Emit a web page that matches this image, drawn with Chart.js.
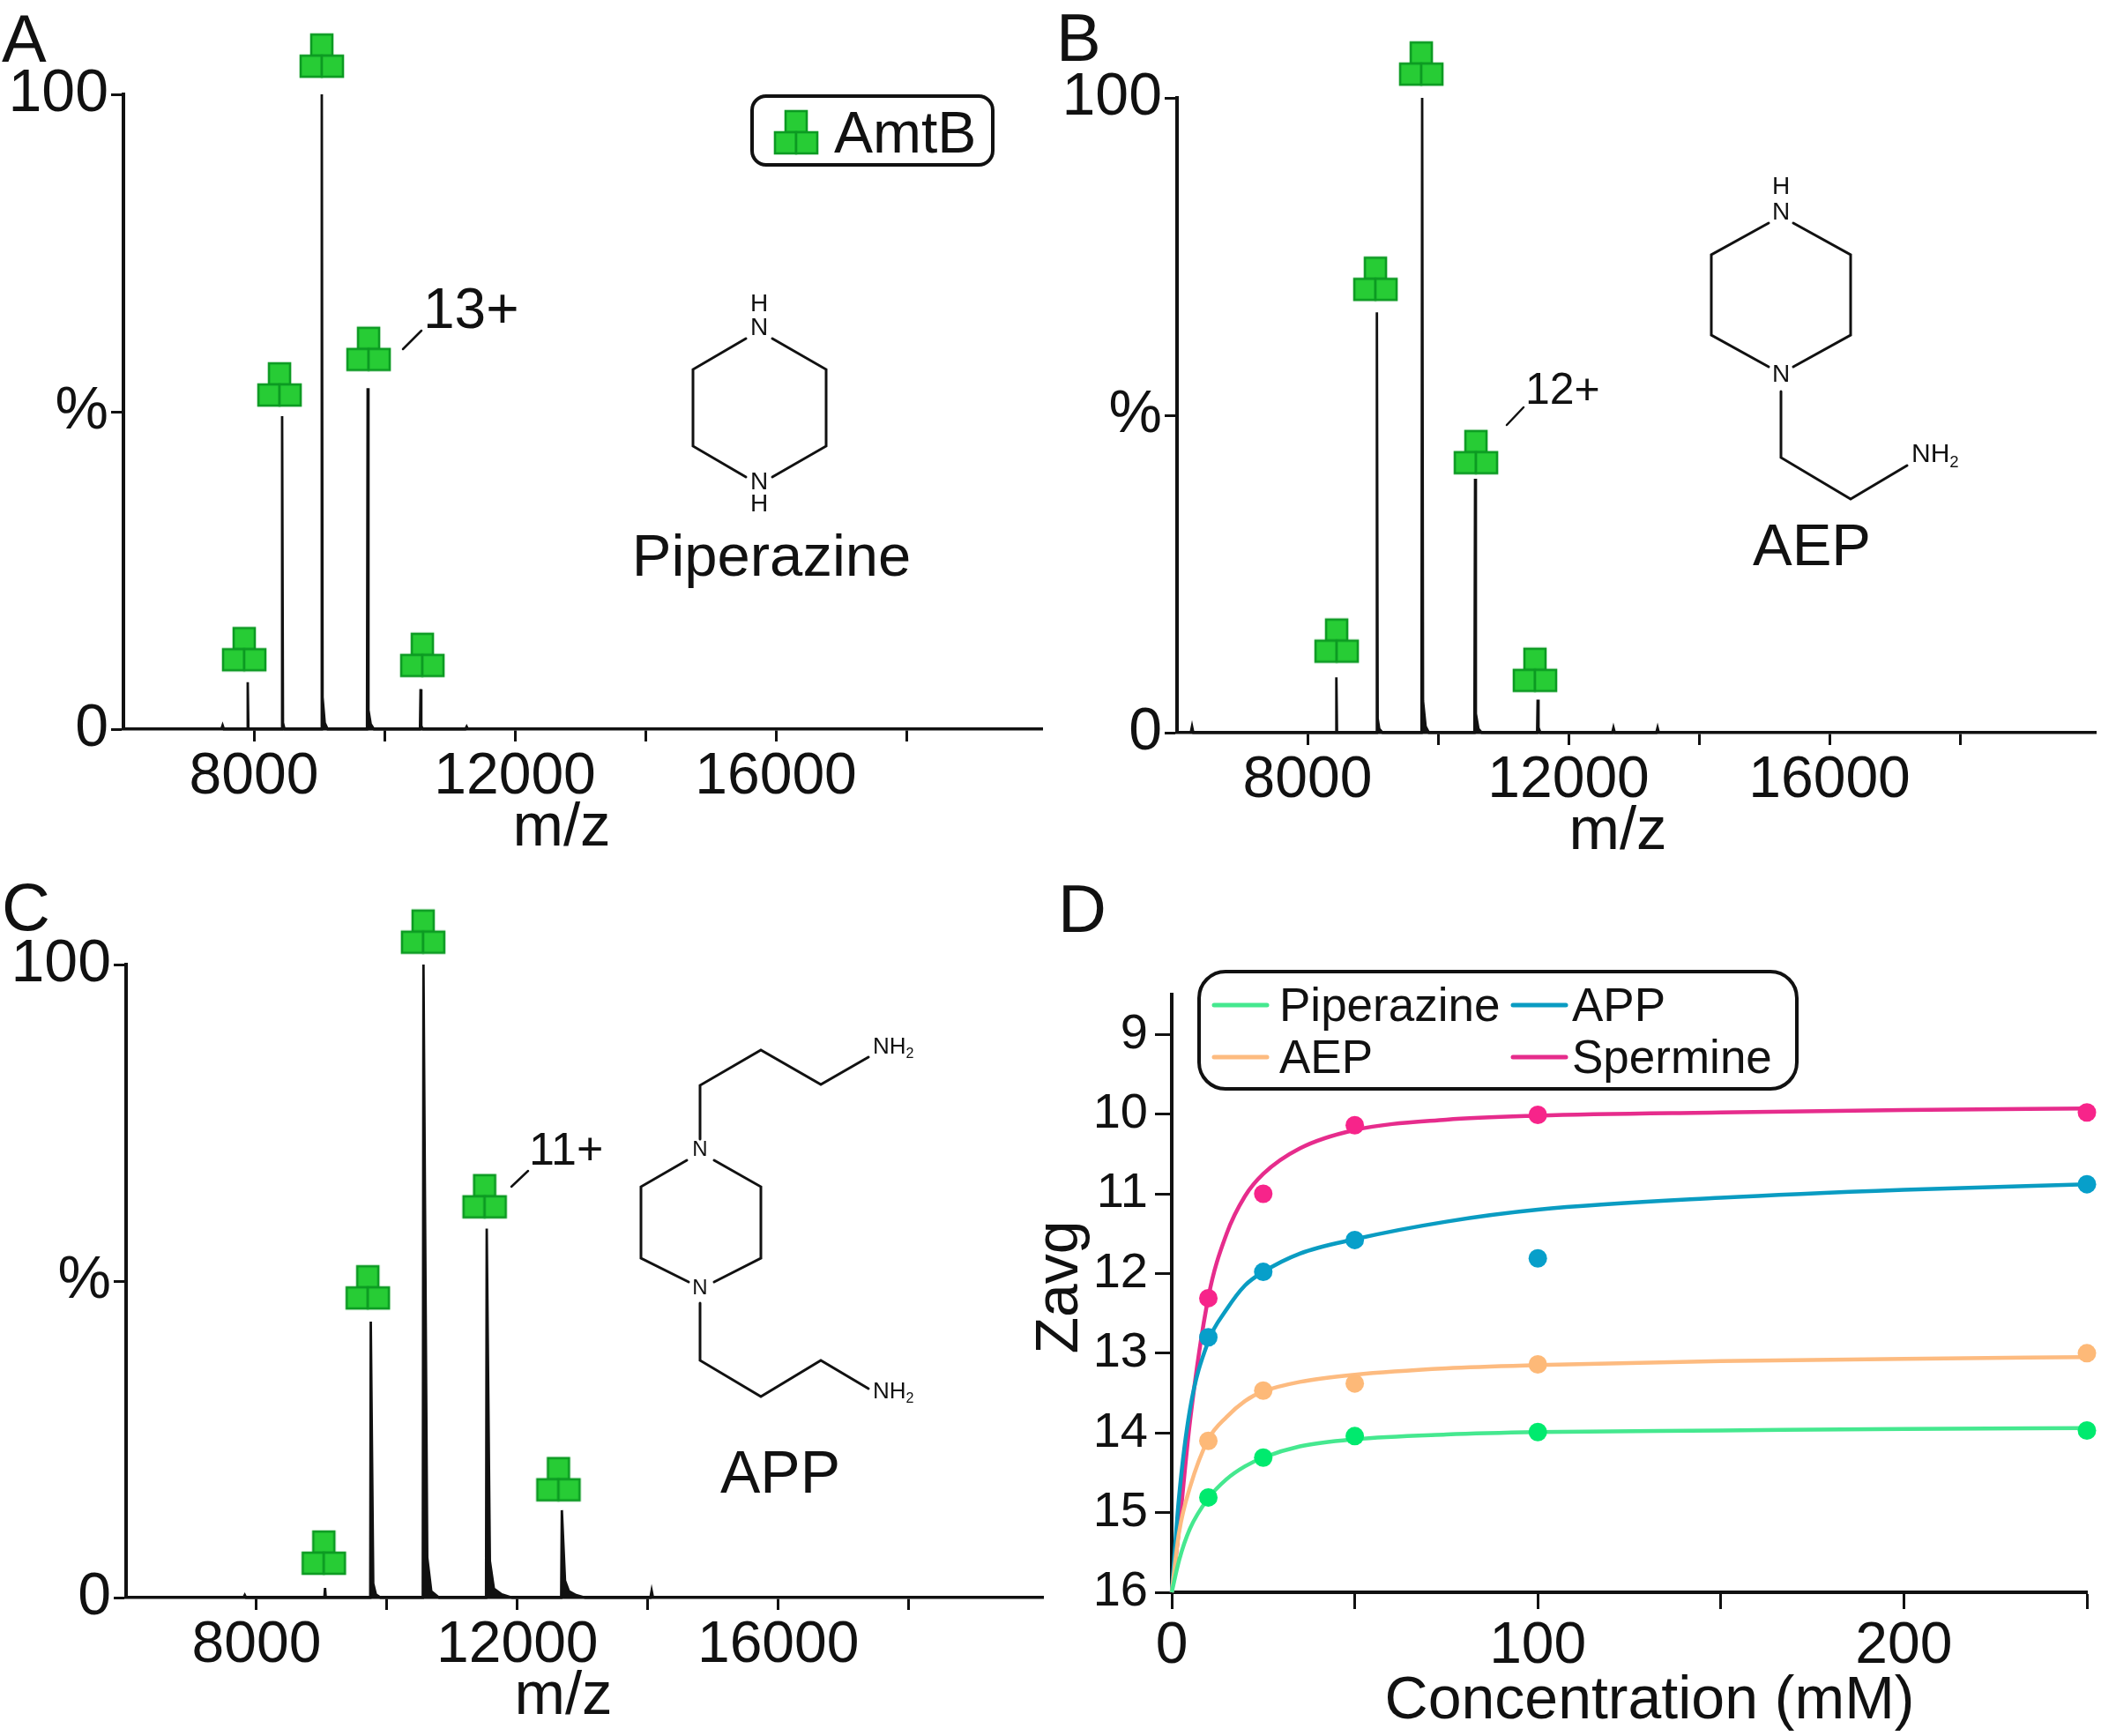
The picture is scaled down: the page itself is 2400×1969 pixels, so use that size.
<!DOCTYPE html>
<html>
<head>
<meta charset="utf-8">
<title>AmtB charge reduction</title>
<script src="https://cdn.jsdelivr.net/npm/chart.js@4/dist/chart.umd.min.js"></script>
<style>
    html, body { margin: 0; padding: 0; background: #fff; }
    canvas { position: absolute; }
</style>
</head>
<body>
<canvas id="panelA"></canvas>
<canvas id="panelB"></canvas>
<canvas id="panelC"></canvas>
<canvas id="panelD"></canvas>
<script>
// spectra: mz / percent
const mzA = [7500, 7520, 7540, 7897, 7905, 7915, 8424, 8432, 8445, 8470, 9030, 9040, 9052, 9085, 9130, 9733, 9743, 9755, 9790, 9840, 10545, 10554, 10565, 10590, 11240, 11260, 11280];
const pctA = [0, 0.6, 0, 0, 7.4, 0, 0, 49.3, 1, 0, 0, 100, 5, 1, 0, 0, 53.7, 3, 0.8, 0, 0, 6.3, 0.5, 0, 0, 0.4, 0];
const glyphMzA = [7851, 8392, 9040, 9757, 10581];
const glyphPctA = [12.6, 54.3, 106.1, 59.9, 11.7];

const mzB = [6210, 6230, 6250, 8434, 8442, 8452, 9055, 9063, 9075, 9100, 9150, 9747, 9757, 9770, 9810, 9860, 10558, 10568, 10580, 10620, 10670, 11519, 11527, 11540, 11570, 12670, 12689, 12710, 13345, 13365, 13385];
const pctB = [0, 1, 0, 0, 8.7, 0, 0, 66.2, 2.2, 0.6, 0, 0, 100, 5, 1, 0, 0, 40, 3, 0.6, 0, 0, 5.2, 0.8, 0, 0, 0.8, 0, 0, 0.8, 0];
const glyphMzB = [8446, 9041, 9743, 10581, 11486];
const glyphPctB = [14.5, 71.5, 105.4, 44.2, 9.9];

const mzC = [7800, 7820, 7840, 9040, 9051, 9062, 9744, 9752, 9790, 9830, 9900, 10550, 10560, 10618, 10680, 10800, 11520, 11530, 11578, 11640, 11760, 11920, 12672, 12682, 12730, 12790, 12900, 13040, 14040, 14059, 14080];
const pctC = [0, 0.4, 0, 0, 1.5, 0, 0, 43.6, 2.2, 0.5, 0, 0, 100, 6.3, 1, 0, 0, 58.3, 5.8, 1.4, 0.5, 0, 0, 13.8, 2.7, 1, 0.4, 0, 0, 1.1, 0];
const glyphMzC = [9032, 9706, 10555, 11498, 12630];
const glyphPctC = [7.1, 49, 105.2, 63.4, 18.7];

const mzTicks = [8000, 10000, 12000, 14000, 16000, 18000];
const mzLabels = [8000, 12000, 16000];
const pctTicks = [0, 50, 100];
const pctLabels = { 0: "0", 50: "%", 100: "100" };

// titration: measured points and the drawn fit lines
const seriesNames = ["Piperazine", "AEP", "APP", "Spermine"];
const concentrations = [10, 25, 50, 100, 250];
const zavgPiperazine = [14.81, 14.31, 14.04, 13.99, 13.97];
const zavgAEP = [14.1, 13.47, 13.38, 13.14, 13.0];
const zavgAPP = [12.8, 11.98, 11.58, 11.81, 10.88];
const zavgSpermine = [12.31, 11.0, 10.14, 10.01, 9.98];

const curveConc = [0, 2, 5, 10, 15, 20, 25, 35, 50, 75, 100, 150, 200, 250];
const curvePiperazine = [16, 15.6, 15.2, 14.82, 14.58, 14.42, 14.31, 14.17, 14.08, 14.02, 13.99, 13.97, 13.95, 13.94];
const curveAEP = [16, 15.25, 14.68, 14.08, 13.8, 13.6, 13.48, 13.36, 13.27, 13.19, 13.15, 13.1, 13.07, 13.05];
const curveAPP = [16, 14.8, 13.7, 12.85, 12.45, 12.15, 11.98, 11.75, 11.57, 11.35, 11.2, 11.05, 10.95, 10.88];
const curveSpermine = [16, 15.2, 13.85, 12.3, 11.5, 11.03, 10.75, 10.43, 10.2, 10.07, 10.02, 9.98, 9.95, 9.93];

const concTicks = [0, 50, 100, 150, 200, 250];
const concLabels = [0, 100, 200];
const zTicks = [9, 10, 11, 12, 13, 14, 15, 16];

const lineColors = ["#45e88f", "#fdbb80", "#0a9cc2", "#e62c8c"];
const dotColors = ["#00ea6e", "#fdb978", "#079fca", "#f7248a"];

const FONT = '"Liberation Sans", Arial, sans-serif';
const INK = "#111";

function makeGlyph(){
    let c = document.createElement("canvas");
    c.width = 54;
    c.height = 54;
    let g = c.getContext("2d");
    g.fillStyle = "#27cc35";
    g.strokeStyle = "#0c9a22";
    g.lineWidth = 2.6;
    for(let box of [[15, 3], [3, 27], [27, 27]]){
        g.fillRect(box[0], box[1], 24, 24);
        g.strokeRect(box[0], box[1], 24, 24);
    }
    return c;
}
const glyph = makeGlyph();

function text(ctx, str, x, y, size, align){
    ctx.font = size + "px " + FONT;
    ctx.fillStyle = INK;
    ctx.textAlign = align || "left";
    ctx.textBaseline = "alphabetic";
    ctx.fillText(str, x, y);
}

function atom(ctx, str, x, y, size){
    ctx.font = size + "px " + FONT;
    ctx.fillStyle = INK;
    ctx.textAlign = "center";
    ctx.textBaseline = "middle";
    ctx.fillText(str, x, y);
}

function nh2(ctx, x, y, size){
    ctx.font = size + "px " + FONT;
    ctx.fillStyle = INK;
    ctx.textAlign = "left";
    ctx.textBaseline = "middle";
    ctx.fillText("NH", x, y);
    let w = ctx.measureText("NH").width;
    ctx.font = (size * 0.62) + "px " + FONT;
    ctx.fillText("2", x + w, y + size * 0.3);
}

function bonds(ctx, list, width){
    ctx.strokeStyle = INK;
    ctx.lineWidth = width;
    ctx.lineCap = "round";
    ctx.beginPath();
    for(let s of list){
        for(let i = 0; i < s.length; i += 2){
            if(i == 0) ctx.moveTo(s[0], s[1]);
            else ctx.lineTo(s[i], s[i + 1]);
        }
    }
    ctx.stroke();
}

function notes(box, fn){
    return {
        id: "notes",
        afterDraw(chart){
            let ctx = chart.ctx;
            ctx.save();
            ctx.translate(-box.x, -box.y);
            fn(ctx);
            ctx.restore();
        }
    };
}

function place(id, box){
    let cv = document.getElementById(id);
    cv.width = box.w;
    cv.height = box.h;
    cv.style.left = box.x + "px";
    cv.style.top = box.y + "px";
    cv.style.width = box.w + "px";
    cv.style.height = box.h + "px";
    return cv;
}

function axisPadding(box, area){
    return { left: 0, top: area.top - box.y, right: box.x + box.w - area.right, bottom: 0 };
}

function drawSpectrum(id, box, area, xMax, mz, pct, glyphMz, glyphPct, drawNotes){
    let cv = place(id, box);
    new Chart(cv, {
        type: "line",
        data: {
            datasets: [
                {
                    data: glyphMz.map((x, i) => ({ x: x, y: glyphPct[i] })),
                    pointStyle: glyph,
                    // big radius only so the glyphs above 100 % are not culled
                    pointRadius: 60,
                    showLine: false,
                    clip: false
                },
                {
                    data: mz.map((x, i) => ({ x: x, y: pct[i] })),
                    borderColor: INK,
                    backgroundColor: INK,
                    borderWidth: 2.8,
                    pointRadius: 0,
                    tension: 0,
                    fill: "origin",
                    clip: false
                }
            ]
        },
        options: {
            responsive: false,
            animation: false,
            layout: { autoPadding: false, padding: axisPadding(box, area) },
            plugins: { legend: { display: false }, tooltip: { enabled: false } },
            scales: {
                x: {
                    type: "linear",
                    min: 6000,
                    max: xMax,
                    afterBuildTicks: (s) => { s.ticks = mzTicks.map(v => ({ value: v })); },
                    afterFit: (s) => { s.height = box.y + box.h - area.bottom; },
                    border: { color: INK, width: 3.5 },
                    grid: { drawOnChartArea: false, tickLength: 14, tickWidth: 3, tickColor: INK },
                    ticks: {
                        autoSkip: false,
                        maxRotation: 0,
                        padding: 1,
                        color: INK,
                        font: { family: FONT, size: 66 },
                        callback: (v) => mzLabels.includes(v) ? String(v) : ""
                    }
                },
                y: {
                    min: 0,
                    max: 100,
                    afterBuildTicks: (s) => { s.ticks = pctTicks.map(v => ({ value: v })); },
                    afterFit: (s) => { s.width = area.left - box.x; },
                    border: { color: INK, width: 4 },
                    grid: { drawOnChartArea: false, tickLength: 14, tickWidth: 3, tickColor: INK },
                    ticks: {
                        padding: 3,
                        color: INK,
                        font: { family: FONT, size: 68 },
                        callback: (v) => pctLabels[v]
                    }
                }
            }
        },
        plugins: [notes(box, drawNotes)]
    });
}

function drawTitration(){
    let box = { x: 1150, y: 980, w: 1250, h: 989 };
    let area = { left: 1329, top: 1128, right: 2367, bottom: 1806 };
    let cv = place("panelD", box);
    let dots = [zavgPiperazine, zavgAEP, zavgAPP, zavgSpermine];
    let curves = [curvePiperazine, curveAEP, curveAPP, curveSpermine];
    let datasets = [];
    dots.forEach((vals, n) => {
        datasets.push({
            data: concentrations.map((x, i) => ({ x: x, y: vals[i] })),
            pointStyle: "circle",
            pointRadius: 10.5,
            backgroundColor: dotColors[n],
            borderWidth: 0,
            showLine: false,
            clip: false
        });
    });
    curves.forEach((vals, n) => {
        datasets.push({
            data: curveConc.map((x, i) => ({ x: x, y: vals[i] })),
            borderColor: lineColors[n],
            borderWidth: 4.5,
            pointRadius: 0,
            cubicInterpolationMode: "monotone",
            clip: false
        });
    });
    new Chart(cv, {
        type: "line",
        data: { datasets: datasets },
        options: {
            responsive: false,
            animation: false,
            layout: { autoPadding: false, padding: axisPadding(box, area) },
            plugins: { legend: { display: false }, tooltip: { enabled: false } },
            scales: {
                x: {
                    type: "linear",
                    min: 0,
                    max: 250,
                    afterBuildTicks: (s) => { s.ticks = concTicks.map(v => ({ value: v })); },
                    afterFit: (s) => { s.height = box.y + box.h - area.bottom; },
                    border: { color: INK, width: 4 },
                    grid: { drawOnChartArea: false, tickLength: 19, tickWidth: 3, tickColor: INK },
                    ticks: {
                        autoSkip: false,
                        maxRotation: 0,
                        padding: 3,
                        color: INK,
                        font: { family: FONT, size: 66 },
                        callback: (v) => concLabels.includes(v) ? String(v) : ""
                    }
                },
                y: {
                    reverse: true,
                    min: 8.5,
                    max: 16,
                    afterBuildTicks: (s) => { s.ticks = zTicks.map(v => ({ value: v })); },
                    afterFit: (s) => { s.width = area.left - box.x; },
                    border: { color: INK, width: 4 },
                    grid: { drawOnChartArea: false, tickLength: 19, tickWidth: 3, tickColor: INK },
                    ticks: {
                        padding: 8,
                        color: INK,
                        font: { family: FONT, size: 56 },
                        callback: (v) => String(v)
                    }
                }
            }
        },
        plugins: [notes(box, (ctx) => {
            text(ctx, "D", 1200, 1057, 76);
            text(ctx, "Concentration (mM)", 1871, 1949, 68, "center");
            ctx.save();
            ctx.translate(1222, 1460);
            ctx.rotate(-Math.PI / 2);
            text(ctx, "Zavg", 0, 0, 68, "center");
            ctx.restore();

            ctx.beginPath();
            ctx.roundRect(1360, 1102, 678, 133, 30);
            ctx.fillStyle = "#fff";
            ctx.fill();
            ctx.strokeStyle = INK;
            ctx.lineWidth = 4;
            ctx.stroke();
            let keyX = [1377, 1377, 1716, 1716];
            let keyY = [1140, 1199, 1140, 1199];
            let nameX = [1451, 1451, 1783, 1783];
            seriesNames.forEach((name, n) => {
                ctx.strokeStyle = lineColors[n];
                ctx.lineWidth = 5;
                ctx.lineCap = "round";
                ctx.beginPath();
                ctx.moveTo(keyX[n], keyY[n]);
                ctx.lineTo(keyX[n] + 60, keyY[n]);
                ctx.stroke();
                text(ctx, name, nameX[n], keyY[n] + 18, 53);
            });
        })]
    });
}

drawSpectrum("panelA", { x: 0, y: 0, w: 1200, h: 980 }, { left: 140, top: 107, right: 1182, bottom: 827 }, 20080,
    mzA, pctA, glyphMzA, glyphPctA, (ctx) => {
        text(ctx, "A", 2, 70, 76);
        text(ctx, "m/z", 637, 959, 69, "center");
        text(ctx, "13+", 480, 372, 64);
        bonds(ctx, [[457, 396, 478, 375]], 2.5);

        ctx.beginPath();
        ctx.roundRect(853, 109, 273, 78, 16);
        ctx.strokeStyle = INK;
        ctx.lineWidth = 4;
        ctx.stroke();
        ctx.drawImage(glyph, 876, 123);
        text(ctx, "AmtB", 946, 173, 66);

        bonds(ctx, [
            [846, 384, 786, 419, 786, 506, 846, 541],
            [876, 384, 937, 419, 937, 506, 876, 541]
        ], 3);
        atom(ctx, "H", 861, 345, 28);
        atom(ctx, "N", 861, 372, 28);
        atom(ctx, "N", 861, 547, 28);
        atom(ctx, "H", 861, 572, 28);
        text(ctx, "Piperazine", 875, 653, 67, "center");
    });

drawSpectrum("panelB", { x: 1200, y: 0, w: 1200, h: 980 }, { left: 1335, top: 111, right: 2377, bottom: 831 }, 20080,
    mzB, pctB, glyphMzB, glyphPctB, (ctx) => {
        text(ctx, "B", 1198, 69, 76);
        text(ctx, "m/z", 1835, 963, 69, "center");
        text(ctx, "12+", 1730, 458, 50);
        bonds(ctx, [[1709, 482, 1728, 462]], 2.5);

        bonds(ctx, [
            [2006, 253, 1941, 289, 1941, 380, 2006, 416],
            [2034, 253, 2099, 289, 2099, 380, 2034, 416],
            [2020, 444, 2020, 519, 2099, 566, 2163, 528]
        ], 3);
        atom(ctx, "H", 2020, 212, 28);
        atom(ctx, "N", 2020, 241, 28);
        atom(ctx, "N", 2020, 425, 28);
        nh2(ctx, 2168, 516, 30);
        text(ctx, "AEP", 2055, 641, 67, "center");
    });

drawSpectrum("panelC", { x: 0, y: 980, w: 1200, h: 989 }, { left: 143, top: 1094, right: 1183, bottom: 1812 }, 20060,
    mzC, pctC, glyphMzC, glyphPctC, (ctx) => {
        text(ctx, "C", 2, 1055, 76);
        text(ctx, "m/z", 639, 1944, 69, "center");
        text(ctx, "11+", 600, 1321, 52);
        bonds(ctx, [[580, 1346, 599, 1328]], 2.5);

        bonds(ctx, [
            [779, 1316, 727, 1346, 727, 1427, 781, 1454],
            [810, 1316, 863, 1346, 863, 1427, 810, 1454],
            [794, 1292, 794, 1231, 863, 1191, 931, 1230, 985, 1199],
            [794, 1478, 794, 1543, 863, 1584, 931, 1543, 985, 1575]
        ], 3);
        atom(ctx, "N", 794, 1304, 24);
        atom(ctx, "N", 794, 1461, 24);
        nh2(ctx, 990, 1188, 26);
        nh2(ctx, 990, 1579, 26);
        text(ctx, "APP", 885, 1693, 68, "center");
    });

drawTitration();
</script>
</body>
</html>
